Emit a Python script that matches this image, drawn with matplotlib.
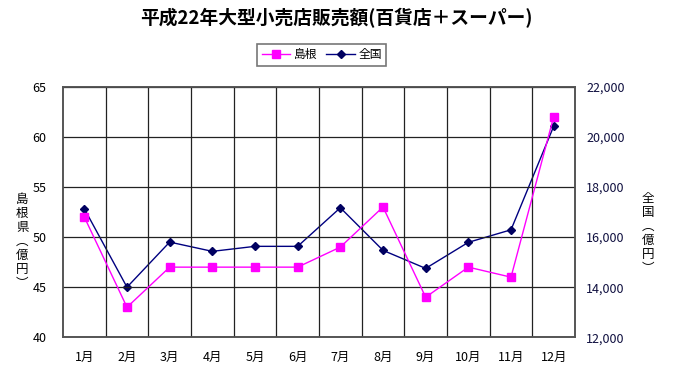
import matplotlib
matplotlib.use('Agg')
import matplotlib.pyplot as plt

plt.rcParams['font.family'] = ['Noto Sans CJK JP', 'DejaVu Sans']

# data
months = ['1月', '2月', '3月', '4月', '5月', '6月', '7月', '8月', '9月', '10月', '11月', '12月']
shimane = [52, 43, 47, 47, 47, 47, 49, 53, 44, 47, 46, 62]
zenkoku = [17130, 14000, 15800, 15430, 15630, 15630, 17170, 15470, 14750, 15790, 16290, 20420]
left_ticks = [40, 45, 50, 55, 60, 65]
right_ticks = [12000, 14000, 16000, 18000, 20000, 22000]

fig = plt.figure(figsize=(6.73, 3.71), dpi=100)
ax = fig.add_axes([0.0936, 0.0908, 0.7608, 0.6755])
ax2 = ax.twinx()

x = list(range(len(months)))

l1, = ax.plot(x, shimane, color='#ff00ff', lw=1, marker='s', ms=6,
              markerfacecolor='#ff00ff', markeredgecolor='#ff00ff', label='島根', zorder=4)
l2, = ax2.plot(x, zenkoku, color='#000080', lw=1, marker='D', ms=4,
               markerfacecolor='#000060', markeredgecolor='#000060', label='全国', zorder=3)
ax.set_zorder(ax2.get_zorder() + 1)
ax.patch.set_visible(False)

ax.set_xlim(-0.5, len(months) - 0.5)
ax.set_ylim(40, 65)
ax.set_yticks(left_ticks)
ax2.set_ylim(12000, 22000)
ax2.set_yticks(right_ticks)
ax2.set_yticklabels([f'{v:,}' for v in right_ticks], color='#101040')

ax.set_xticks(x)
ax.set_xticklabels(months)
ax.set_xticks([i + 0.5 for i in range(len(months) - 1)], minor=True)
ax.grid(True, which='minor', axis='x', color='#222222', lw=0.9)
ax.grid(True, which='major', axis='y', color='#222222', lw=0.9)

for a in (ax, ax2):
    a.tick_params(which='both', length=0, labelsize=9)
    for s in a.spines.values():
        s.set_color('#555555')
        s.set_linewidth(1.2)
ax.tick_params(axis='x', pad=10)
ax.tick_params(axis='y', pad=12)
ax2.tick_params(axis='y', pad=8)

fig.text(0.5, 0.951, '平成22年大型小売店販売額(百貨店＋スーパー)', ha='center', va='center',
         fontsize=13.5, fontweight='bold')
fig.text(0.033, 0.35, '島\n根\n県\n︵\n億\n円\n︶', ha='center', va='center',
         fontsize=9, linespacing=1.1)
fig.text(0.963, 0.37, '全\n国\n︵\n億\n円\n︶', ha='center', va='center',
         fontsize=9, linespacing=1.1)

leg = fig.legend(handles=[l1, l2], loc='center', bbox_to_anchor=(0.478, 0.852), ncol=2,
                 fontsize=8.5, frameon=True, fancybox=False, handlelength=2.4,
                 columnspacing=0.8, handletextpad=0.3, borderpad=0.35)
leg.get_frame().set_edgecolor('#555555')
leg.get_frame().set_linewidth(1.2)

fig.savefig('out.png', dpi=100)
